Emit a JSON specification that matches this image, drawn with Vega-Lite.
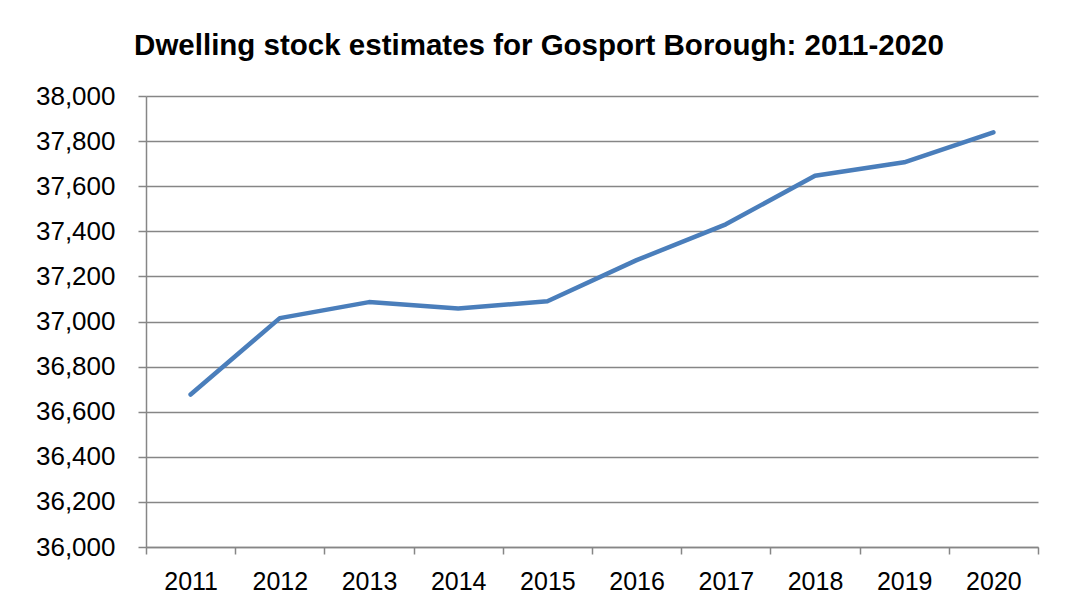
{
  "$schema": "https://vega.github.io/schema/vega-lite/v6.json",
  "autosize": "none",
  "width": 892,
  "height": 451,
  "padding": {"left": 146, "top": 96, "right": 27, "bottom": 59},
  "background": "white",
  "title": {
    "text": "Dwelling stock estimates for Gosport Borough: 2011-2020",
    "font": "Liberation Sans",
    "fontSize": 29.5,
    "fontWeight": "bold",
    "color": "#000000",
    "anchor": "middle",
    "baseline": "alphabetic",
    "offset": 2,
    "dy": 3,
    "dx": -53
  },
  "config": {
    "view": {"stroke": null},
    "axis": {
      "labelFont": "Liberation Sans",
      "labelColor": "#000000",
      "domainColor": "#868686",
      "tickColor": "#868686",
      "gridColor": "#868686",
      "title": null
    }
  },
  "data": {
    "values": [
      {"year": "2011", "dwellings": 36676},
      {"year": "2012", "dwellings": 37015},
      {"year": "2013", "dwellings": 37086},
      {"year": "2014", "dwellings": 37058},
      {"year": "2015", "dwellings": 37090},
      {"year": "2016", "dwellings": 37272},
      {"year": "2017", "dwellings": 37431},
      {"year": "2018", "dwellings": 37646},
      {"year": "2019", "dwellings": 37706},
      {"year": "2020", "dwellings": 37839}
    ]
  },
  "mark": {"type": "line", "color": "#4a7ebb", "strokeWidth": 4.5, "strokeCap": "round", "strokeJoin": "round"},
  "encoding": {
    "x": {
      "field": "year",
      "type": "ordinal",
      "scale": {"paddingInner": 0, "paddingOuter": 0},
      "axis": {
        "labelAngle": 0,
        "labelFontSize": 25,
        "tickBand": "extent",
        "tickSize": 7,
        "labelPadding": 15,
        "grid": false,
        "domainWidth": 1.5,
        "tickWidth": 1.5
      }
    },
    "y": {
      "field": "dwellings",
      "type": "quantitative",
      "scale": {"domain": [36000, 38000], "nice": false, "zero": false},
      "axis": {
        "values": [36000, 36200, 36400, 36600, 36800, 37000, 37200, 37400, 37600, 37800, 38000],
        "format": ",.0f",
        "labelFontSize": 26,
        "tickSize": 8,
        "labelPadding": 23,
        "domainWidth": 1.5,
        "tickWidth": 1.5,
        "gridWidth": 1.5
      }
    }
  }
}
